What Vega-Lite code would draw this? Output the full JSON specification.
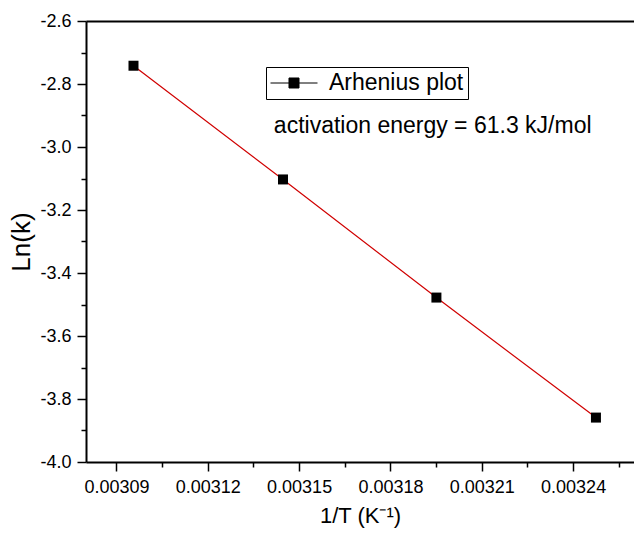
{
  "$schema": "https://vega.github.io/schema/vega-lite/v6.json",
  "width": 548,
  "height": 441,
  "autosize": {"type": "none"},
  "padding": {"left": 86, "top": 21, "right": 0, "bottom": 72},
  "background": "white",
  "config": {
    "view": {"stroke": null},
    "font": "Liberation Sans",
    "axis": {
      "grid": false,
      "domainColor": "#000000",
      "domainWidth": 2,
      "tickColor": "#000000",
      "tickWidth": 1.5,
      "labelColor": "#000000",
      "labelFont": "Liberation Sans",
      "labelFontSize": 18,
      "titleFont": "Liberation Sans",
      "titleFontWeight": "normal",
      "titleColor": "#000000"
    }
  },
  "data": {
    "values": [
      {"invT": 0.0030956, "lnk": -2.742, "series": "Arhenius plot"},
      {"invT": 0.0031447, "lnk": -3.103, "series": "Arhenius plot"},
      {"invT": 0.0031951, "lnk": -3.478, "series": "Arhenius plot"},
      {"invT": 0.0032475, "lnk": -3.859, "series": "Arhenius plot"}
    ]
  },
  "layer": [
    {
      "mark": {"type": "line", "color": "#d00000", "strokeWidth": 1.2},
      "encoding": {
        "x": {
          "field": "invT", "type": "quantitative",
          "scale": {"domain": [0.00308, 0.00326], "nice": false, "zero": false},
          "axis": {
            "orient": "bottom",
            "values": [0.00309, 0.00312, 0.00315, 0.00318, 0.00321, 0.00324],
            "format": ".5f",
            "tickSize": 9,
            "labelPadding": 7,
            "title": "1/T (K⁻¹)",
            "titleFontSize": 22,
            "titlePadding": 9
          }
        },
        "y": {
          "field": "lnk", "type": "quantitative",
          "scale": {"domain": [-4.0, -2.6], "nice": false, "zero": false},
          "axis": {
            "orient": "left",
            "values": [-4.0, -3.8, -3.6, -3.4, -3.2, -3.0, -2.8, -2.6],
            "labelExpr": "replace(format(datum.value, '.1f'), '\u2212', '-')",
            "tickSize": 9,
            "labelPadding": 6,
            "title": "Ln(k)",
            "titleFontSize": 26,
            "titlePadding": 5
          }
        }
      }
    },
    {
      "mark": {"type": "point", "shape": "square", "filled": true, "size": 100, "opacity": 1},
      "encoding": {
        "x": {"field": "invT", "type": "quantitative", "axis": null},
        "y": {"field": "lnk", "type": "quantitative", "axis": null},
        "color": {
          "field": "series", "type": "nominal",
          "scale": {"range": ["#000000"]},
          "legend": {
            "title": null,
            "orient": "none",
            "legendX": 180,
            "legendY": 46,
            "padding": 4,
            "clipHeight": 24,
            "strokeColor": "#000000",
            "fillColor": "white",
            "symbolType": "M-1,0H1M-0.2128,-0.2128H0.2128V0.2128H-0.2128Z",
            "symbolSize": 2209,
            "symbolStrokeWidth": 1,
            "symbolFillColor": "#000000",
            "symbolStrokeColor": "#000000",
            "symbolOpacity": 1,
            "labelFont": "Liberation Sans",
            "labelFontSize": 23,
            "labelColor": "#000000",
            "labelOffset": 11
          }
        }
      }
    },
    {
      "mark": {"type": "point", "opacity": 0},
      "encoding": {
        "x": {
          "field": "invT", "type": "quantitative",
          "axis": {
            "orient": "bottom",
            "values": [0.003105, 0.003135, 0.003165, 0.003195, 0.003225, 0.003255],
            "labels": false, "domain": false, "tickSize": 5, "title": null
          }
        },
        "y": {
          "field": "lnk", "type": "quantitative",
          "axis": {
            "orient": "left",
            "values": [-3.9, -3.7, -3.5, -3.3, -3.1, -2.9, -2.7],
            "labels": false, "domain": false, "tickSize": 5, "title": null
          }
        }
      }
    },
    {
      "mark": {"type": "point", "opacity": 0},
      "encoding": {
        "x": {
          "field": "invT", "type": "quantitative",
          "axis": {"orient": "top", "ticks": false, "labels": false, "domain": true, "title": null}
        },
        "y": {"field": "lnk", "type": "quantitative", "axis": null}
      }
    },
    {
      "data": {"values": [{"label": "activation energy = 61.3 kJ/mol"}]},
      "mark": {"type": "text", "align": "left", "baseline": "alphabetic", "font": "Liberation Sans", "fontSize": 23, "color": "#000000"},
      "encoding": {
        "x": {"datum": 0.0031417, "type": "quantitative", "axis": null},
        "y": {"datum": -2.9556, "type": "quantitative", "axis": null},
        "text": {"field": "label"}
      }
    }
  ],
  "resolve": {"axis": {"x": "independent", "y": "independent"}}
}
